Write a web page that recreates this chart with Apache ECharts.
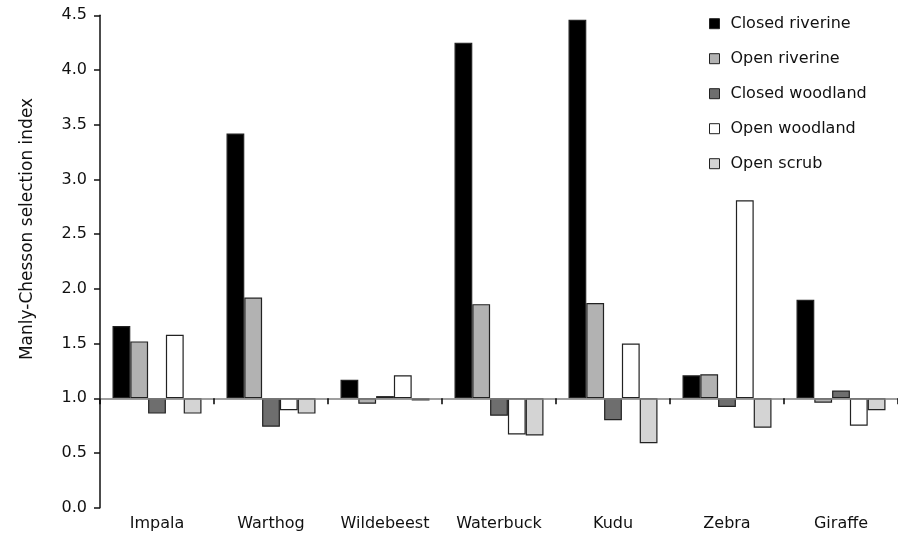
<!DOCTYPE html>
<html>
<head>
<meta charset="utf-8">
<script src="https://cdn.jsdelivr.net/npm/echarts@6/dist/echarts.min.js"></script>
<style>html,body{margin:0;padding:0;background:#fff}#c{width:898px;height:534px}</style>
</head>
<body>
<div id="c"></div>
<script>
const categories = ['Impala', 'Warthog', 'Wildebeest', 'Waterbuck', 'Kudu', 'Zebra', 'Giraffe'];
const closedRiverine = [1.66, 3.42, 1.17, 4.25, 4.46, 1.21, 1.90];
const openRiverine   = [1.52, 1.92, 0.95, 1.86, 1.87, 1.22, 0.96];
const closedWoodland = [0.86, 0.74, 1.02, 0.84, 0.80, 0.92, 1.07];
const openWoodland   = [1.58, 0.89, 1.21, 0.67, 1.50, 2.81, 0.75];
const openScrub      = [0.86, 0.86, 0.98, 0.66, 0.59, 0.73, 0.89];
const seriesNames = ['Closed riverine', 'Open riverine', 'Closed woodland', 'Open woodland', 'Open scrub'];
const yTicks = [0, 0.5, 1, 1.5, 2, 2.5, 3, 3.5, 4, 4.5];
const baseline = 1.0;

const seriesValues = [closedRiverine, openRiverine, closedWoodland, openWoodland, openScrub];
const colors = ['#000000', '#b2b2b2', '#6e6e6e', '#ffffff', '#d4d4d4'];
const FONT = 'DejaVu Sans';

const series = [];
seriesValues.forEach((vals, i) => {
  series.push({
    type: 'bar', name: '_base' + i, stack: 's' + i, xAxisIndex: 0,
    barWidth: 17.8, barGap: '0%', silent: true,
    itemStyle: { color: 'transparent', borderWidth: 0 },
    data: vals.map(v => Math.min(v, baseline))
  });
  series.push({
    type: 'bar', name: seriesNames[i], stack: 's' + i, xAxisIndex: 0,
    barWidth: 17.8, barGap: '0%',
    itemStyle: { color: colors[i], borderColor: '#222', borderWidth: 1.2 },
    data: vals.map(v => Math.abs(v - baseline))
  });
});

const chart = echarts.init(document.getElementById('c'), null, { renderer: 'canvas' });
chart.setOption({
  animation: false,
  backgroundColor: '#fff',
  grid: { left: 100, top: 15.3, width: 805, height: 492.4, containLabel: false },
  legend: {
    data: seriesNames,
    icon: 'rect',
    orient: 'vertical', left: 709, top: 14.7, padding: 0,
    itemWidth: 10, itemHeight: 10, itemGap: 17,
    textStyle: { fontFamily: FONT, fontSize: 16, color: '#111', lineHeight: 18, padding: [0, 0, 0, 6] },
    itemStyle: { borderColor: '#222', borderWidth: 1 }
  },
  xAxis: [
    {
      type: 'category', data: categories, position: 'bottom',
      axisLine: { show: false, onZero: false }, axisTick: { show: false },
      axisLabel: { fontFamily: FONT, fontSize: 16, color: '#111', margin: 8, interval: 0 }
    },
    {
      type: 'category', data: categories, position: 'bottom', offset: -109.4,
      axisLine: { show: true, onZero: false, lineStyle: { color: '#808080', width: 1.5 } },
      axisTick: { show: true, length: 6, lineStyle: { color: '#000', width: 1.5 } },
      axisLabel: { show: false }, z: 5
    }
  ],
  yAxis: {
    type: 'value', min: yTicks[0], max: yTicks[yTicks.length - 1], interval: 0.5,
    axisLine: { show: true, lineStyle: { color: '#111', width: 1.5 } },
    axisTick: { show: true, length: 6, lineStyle: { color: '#111', width: 1.5 } },
    splitLine: { show: false },
    axisLabel: { fontFamily: FONT, fontSize: 16, color: '#111', margin: 13, formatter: v => v.toFixed(1) }
  },
  graphic: [{
    type: 'text', x: 28, y: 229, rotation: Math.PI / 2,
    style: { text: 'Manly-Chesson selection index', font: '17px "DejaVu Sans"', fill: '#111', textAlign: 'center', textVerticalAlign: 'middle' }
  }],
  series: series
});
</script>
</body>
</html>
